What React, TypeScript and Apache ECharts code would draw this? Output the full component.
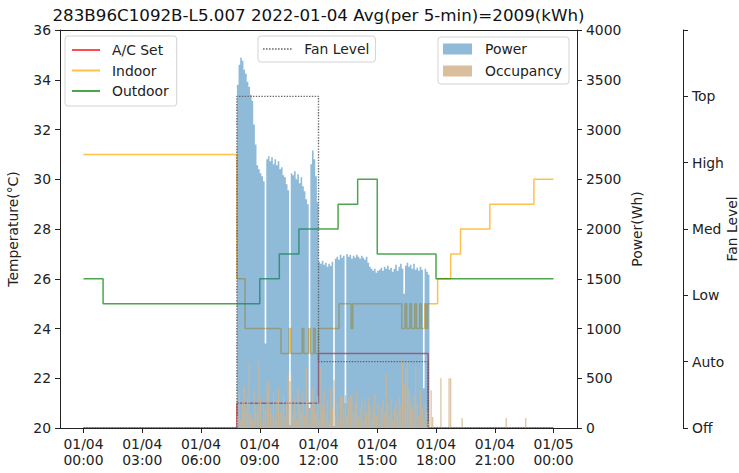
import React, { useEffect, useRef } from "react";
import * as echarts from "echarts";

const FONT = "DejaVu Sans";
const AX = "#222";
const TXT = "#222";

const TITLE = "283B96C1092B-L5.007 2022-01-04 Avg(per 5-min)=2009(kWh)";

const xTickHours = [0, 3, 6, 9, 12, 15, 18, 21, 24];
const xTickLabels = [
  "01/04\n00:00",
  "01/04\n03:00",
  "01/04\n06:00",
  "01/04\n09:00",
  "01/04\n12:00",
  "01/04\n15:00",
  "01/04\n18:00",
  "01/04\n21:00",
  "01/05\n00:00",
];
const fanLevels = ["Off", "Auto", "Low", "Med", "High", "Top"];

// Step series: hour at which each value starts (held until the next time)
const acSetTimes = [0, 7.833, 12.0, 17.6, 24];
const acSetValues = [20, 21, 23, 20, 20];

const indoorTimes = [
  0, 7.833, 8.25, 10.083, 10.5, 10.583, 11.167, 11.25, 11.5, 11.583, 11.75, 11.833, 12.0,
  13.05, 13.667, 13.75, 16.25, 16.417, 16.5, 16.667, 16.75, 16.917, 17.0, 17.167, 17.25,
  17.417, 17.5, 17.583, 18.083, 18.75, 19.25, 20.75, 23.0, 24,
];
const indoorValues = [
  31, 26, 24, 23, 24, 23, 24, 23, 24, 23, 24, 23, 24,
  25, 24, 25, 24, 25, 24, 25, 24, 25, 24, 25, 24,
  25, 24, 25, 26, 27, 28, 29, 30, 30,
];

const outdoorTimes = [0, 1, 9, 10, 11, 13, 14, 15, 18, 24];
const outdoorValues = [26, 25, 26, 27, 28, 29, 30, 27, 26, 26];

const fanTimes = [0, 7.833, 12.0, 17.6, 24];
const fanValues = [0, 5, 1, 0, 0];

// 5-minute power readings (Wh), first slot starts 07:50
const POWER_START = "07:50";
const SLOT_MINUTES = 5;
const powerValues = [
  3450, 3650, 3720, 3690, 3600, 3560, 3480, 3430, 3350, 3290,
  3050, 2850, 2640, 2600, 2560, 2530, 2480, 850, 2700, 2730,
  2680, 2720, 2650, 2700, 2640, 2680, 2600, 2620, 2540, 2520,
  2450, 2390, 30, 2560, 2540, 2580, 2500, 2550, 2460, 2520,
  2430, 2380, 2300, 2250, 200, 2650, 2790, 2700, 2530, 2270,
  1670, 1650, 1680, 1640, 1660, 1620, 1650, 1630, 1670, 20,
  1700, 1720, 1690, 1740, 1710, 1730, 250, 1750, 1720, 1740,
  1700, 1730, 1710, 1740, 1720, 1700, 1730, 1710, 1690, 1720,
  1660, 1620, 1600, 1580, 1600, 1560, 1580, 1590, 1610, 1580,
  1620, 1600, 1630, 1590, 1610, 1570, 1600, 1640, 1580, 1620,
  1650, 1600, 1350, 1630, 1660, 1620, 1640, 1600, 1650, 1590,
  1610, 1580, 1620, 1590, 400, 1600, 1570, 1540,
];

// occupancy on the same 5-minute grid as power
const occupancyValues = [
  120, 350, 80, 260, 420, 180, 300, 660, 150, 90,
  380, 220, 140, 670, 310, 60, 240, 180, 420, 480,
  200, 130, 350, 90, 280, 400, 160, 220, 330, 110,
  260, 540, 470, 540, 150, 300, 80, 410, 230, 170,
  350, 120, 610, 280, 60, 190, 400, 250, 140, 320,
  90, 610, 230, 370, 150, 280, 60, 410, 200, 480,
  130, 260, 90, 310, 330, 180, 330, 120, 290, 330,
  330, 150, 240, 380, 100, 200, 300, 70, 260, 140,
  310, 220, 90, 180, 340, 120, 250, 60, 200, 290,
  150, 550, 230, 110, 300, 80, 190, 260, 140, 310,
  220, 680, 450, 590, 680, 400, 260, 180, 330, 610,
  240, 120, 380, 200, 90, 250, 160, 60,
];
const occLateTimes = ["17:45", "17:50", "18:15", "18:40", "18:45", "19:20", "21:35", "22:35"];
const occLateValues = [380, 110, 500, 500, 500, 100, 100, 100];

const hm = (s: string) => {
  const [h, m] = s.split(":").map(Number);
  return h + m / 60;
};

const stepData = (t: number[], v: number[]) => t.map((x, i) => [x, v[i]]);

const lineIcon = "path://M0,0H28V2H0Z";
let dots = "";
for (let i = 0; i < 10; i++) dots += `M${i * 3},0h1.6v1.6h-1.6Z `;
const dottedIcon = "path://" + dots.trim();

export default function App() {
  const ref = useRef<HTMLDivElement>(null);
  useEffect(() => {
    if (!ref.current) return;
    const chart = echarts.init(ref.current, null, { renderer: "svg" });
    const start = hm(POWER_START);
    const slot = SLOT_MINUTES / 60;
    // each 5-min reading fills its own slot (step held to the slot end)
    const powerData: number[][] = powerValues.map((v, i) => [start + i * slot, v]);
    powerData.push([start + powerValues.length * slot, 0]);
    const occData = occupancyValues
      .map((v, i) => [start + i * slot + slot / 2, v])
      .concat(occLateTimes.map((t, i) => [hm(t), occLateValues[i]]));

    const axisLine = { show: true, onZero: false, lineStyle: { color: AX, width: 1 } };
    const axisTick = { show: true, inside: false, length: 5, lineStyle: { color: AX, width: 1 } };
    const labelBase = { fontSize: 13.9, fontFamily: FONT, color: TXT };
    const legendBox = {
      backgroundColor: "rgba(255,255,255,0.85)",
      borderColor: "#d3d3d3",
      borderWidth: 1,
      borderRadius: 3,
      selectedMode: false,
      orient: "vertical",
      itemStyle: { borderWidth: 0 },
    };
    const powerColor = "rgba(31,119,180,0.5)";

    const option: any = {
      animation: false,
      textStyle: { fontFamily: FONT },
      graphic: [
        {
          type: "text",
          x: 318.5,
          y: 15,
          style: {
            text: TITLE,
            fontSize: 16.7,
            fontFamily: FONT,
            fill: "#111",
            align: "center",
            verticalAlign: "middle",
            textAlign: "center",
            textVerticalAlign: "middle",
          },
        },
      ],
      grid: {
        left: 60,
        right: 162,
        top: 30,
        bottom: 45,
        containLabel: false,
        outerBoundsMode: "none",
      },
      legend: [
        {
          ...legendBox,
          left: 65,
          top: 36,
          padding: [6, 8, 7, 7],
          itemWidth: 28,
          itemHeight: 2,
          itemGap: 4.5,
          textStyle: { ...labelBase, lineHeight: 16, padding: [0, 0, 0, 7] },
          data: [
            { name: "A/C Set", icon: lineIcon },
            { name: "Indoor", icon: lineIcon },
            { name: "Outdoor", icon: lineIcon },
          ],
        },
        {
          ...legendBox,
          left: 258,
          top: 36,
          padding: [5, 6, 5, 5],
          itemWidth: 30,
          itemHeight: 1.6,
          textStyle: { ...labelBase, lineHeight: 16, padding: [0, 0, 0, 7] },
          data: [{ name: "Fan Level", icon: dottedIcon }],
        },
        {
          ...legendBox,
          left: 438,
          top: 37,
          padding: [4, 7, 5, 5],
          itemWidth: 29,
          itemHeight: 11,
          itemGap: 6,
          textStyle: { ...labelBase, lineHeight: 16, padding: [0, 0, 0, 8] },
          data: [
            { name: "Power", icon: "rect", itemStyle: { color: powerColor } },
            { name: "Occupancy", icon: "rect" },
          ],
        },
      ],
      xAxis: [
        {
          type: "value",
          min: -1.2,
          max: 25.2,
          position: "bottom",
          z: 10,
          axisLine,
          axisTick: { ...axisTick, customValues: xTickHours },
          axisLabel: {
            ...labelBase,
            customValues: xTickHours,
            lineHeight: 16,
            margin: 8,
            formatter: (v: number) => {
              const i = xTickHours.indexOf(Math.round(v));
              return i >= 0 ? xTickLabels[i] : "";
            },
          },
          splitLine: { show: false },
        },
        {
          type: "value",
          min: -1.2,
          max: 25.2,
          position: "top",
          z: 10,
          axisLine,
          axisTick: { show: false },
          axisLabel: { show: false },
          splitLine: { show: false },
        },
      ],
      yAxis: [
        {
          type: "value",
          min: 20,
          max: 36,
          interval: 2,
          position: "left",
          z: 10,
          name: "Temperature(°C)",
          nameLocation: "middle",
          nameRotate: 90,
          nameGap: 40,
          nameMoveOverlap: false,
          nameTextStyle: { ...labelBase },
          axisLine,
          axisTick,
          axisLabel: { ...labelBase, margin: 9, formatter: (v: number) => String(v) },
          splitLine: { show: false },
        },
        {
          type: "value",
          min: 0,
          max: 4000,
          interval: 500,
          position: "right",
          z: 10,
          name: "Power(Wh)",
          nameLocation: "middle",
          nameRotate: 90,
          nameGap: 53,
          nameMoveOverlap: false,
          nameTextStyle: { ...labelBase },
          axisLine,
          axisTick,
          axisLabel: { ...labelBase, margin: 9, formatter: (v: number) => String(v) },
          splitLine: { show: false },
        },
        {
          type: "value",
          min: 0,
          max: 6,
          interval: 1,
          position: "right",
          offset: 106,
          name: "Fan Level",
          nameLocation: "middle",
          nameRotate: 90,
          nameGap: 42,
          nameMoveOverlap: false,
          nameTextStyle: { ...labelBase },
          axisLine,
          axisTick,
          axisLabel: {
            ...labelBase,
            margin: 9,
            formatter: (v: number) => fanLevels[Math.round(v)] ?? "",
          },
          splitLine: { show: false },
        },
      ],
      series: [
        {
          name: "A/C Set",
          type: "line",
          xAxisIndex: 0,
          yAxisIndex: 0,
          step: "end",
          symbol: "none",
          color: "rgba(255,0,0,0.7)",
          lineStyle: { width: 1.5, color: "rgba(255,0,0,0.7)" },
          data: stepData(acSetTimes, acSetValues),
          z: 1,
        },
        {
          name: "Indoor",
          type: "line",
          xAxisIndex: 0,
          yAxisIndex: 0,
          step: "end",
          symbol: "none",
          color: "rgba(255,165,0,0.7)",
          lineStyle: { width: 1.5, color: "rgba(255,165,0,0.7)" },
          data: stepData(indoorTimes, indoorValues),
          z: 1,
        },
        {
          name: "Outdoor",
          type: "line",
          xAxisIndex: 0,
          yAxisIndex: 0,
          step: "end",
          symbol: "none",
          color: "rgba(0,128,0,0.7)",
          lineStyle: { width: 1.5, color: "rgba(0,128,0,0.7)" },
          data: stepData(outdoorTimes, outdoorValues),
          z: 1,
        },
        {
          name: "Power",
          type: "line",
          xAxisIndex: 0,
          yAxisIndex: 1,
          step: "end",
          symbol: "none",
          color: powerColor,
          lineStyle: { width: 0, opacity: 0 },
          areaStyle: { color: powerColor, opacity: 1, origin: "start" },
          data: powerData,
          z: 2,
        },
        {
          name: "Occupancy",
          type: "bar",
          xAxisIndex: 1,
          yAxisIndex: 1,
          barWidth: 1.2,
          color: "rgba(210,180,140,0.85)",
          itemStyle: { color: "rgba(210,180,140,0.85)" },
          data: occData,
          z: 3,
        },
        {
          name: "Fan Level",
          type: "line",
          xAxisIndex: 0,
          yAxisIndex: 2,
          step: "end",
          symbol: "none",
          color: "rgba(90,90,90,0.9)",
          lineStyle: { width: 1.4, type: "dotted", color: "rgba(90,90,90,0.9)" },
          data: stepData(fanTimes, fanValues),
          z: 4,
        },
      ],
    };
    chart.setOption(option);
    return () => chart.dispose();
  }, []);
  return (
    <div
      ref={ref}
      style={{ position: "absolute", left: 0, top: 0, width: 739, height: 473 }}
    />
  );
}
